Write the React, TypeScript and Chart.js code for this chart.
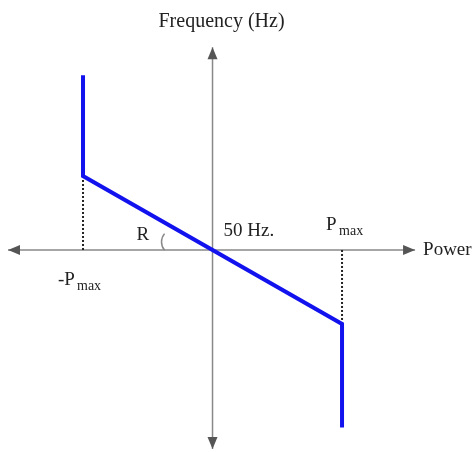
import React, { useEffect, useRef } from "react";
import { Chart, registerables } from "chart.js";

Chart.register(...registerables);

// Droop characteristic: power in units of Pmax, frequency in Hz
const droopPower = [-1, -1, 1, 1];
const droopFrequency = [52.36, 51.0, 49.0, 47.6];

// Guide (dotted) lines from the curve's corners to the power axis
const leftGuidePower = [-1, -1];
const leftGuideFrequency = [51.0, 50.0];
const rightGuidePower = [1, 1];
const rightGuideFrequency = [50.0, 49.0];

// Axes extents
const nominalFrequency = 50;
const powerAxisRange = [-1.579, 1.564];
const frequencyAxisRange = [47.31, 52.74];

// Scale window
const powerScale = [-1.641, 2.019];
const frequencyScale = [47.27, 53.378];

const axisTitleY = "Frequency (Hz)";
const axisTitleX = "Power";
const centerLabel = "50 Hz.";
const angleLabel = "R";

const FONT = "'Liberation Serif', 'Times New Roman', serif";

const overlayPlugin = {
  id: "droopOverlay",
  afterDatasetsDraw(chart: any) {
    const ctx = chart.ctx;
    const xs = chart.scales.x;
    const ys = chart.scales.y;
    const ox = xs.getPixelForValue(0);
    const oy = ys.getPixelForValue(nominalFrequency);
    const xl = xs.getPixelForValue(powerAxisRange[0]);
    const xr = xs.getPixelForValue(powerAxisRange[1]);
    const yt = ys.getPixelForValue(frequencyAxisRange[1]);
    const yb = ys.getPixelForValue(frequencyAxisRange[0]);
    const pL = xs.getPixelForValue(-1);
    const pR = xs.getPixelForValue(1);

    ctx.save();
    // arrowheads
    ctx.fillStyle = "#555";
    const L = 12;
    const W = 5;
    const tri = (pts: number[][]) => {
      ctx.beginPath();
      ctx.moveTo(pts[0][0], pts[0][1]);
      ctx.lineTo(pts[1][0], pts[1][1]);
      ctx.lineTo(pts[2][0], pts[2][1]);
      ctx.closePath();
      ctx.fill();
    };
    tri([[xr, oy], [xr - L, oy - W], [xr - L, oy + W]]);
    tri([[xl, oy], [xl + L, oy - W], [xl + L, oy + W]]);
    tri([[ox, yt], [ox - W, yt + L], [ox + W, yt + L]]);
    tri([[ox, yb], [ox - W, yb - L], [ox + W, yb - L]]);

    // angle arc
    ctx.strokeStyle = "#888";
    ctx.lineWidth = 1.5;
    ctx.beginPath();
    ctx.arc(ox - 38, oy - 8, 13, (140 * Math.PI) / 180, (220 * Math.PI) / 180);
    ctx.stroke();

    // labels
    ctx.fillStyle = "#222";
    ctx.textBaseline = "alphabetic";
    const text = (t: string, x: number, y: number, size: number, align: CanvasTextAlign = "left") => {
      ctx.font = `${size}px ${FONT}`;
      ctx.textAlign = align;
      ctx.fillText(t, x, y);
    };
    text(axisTitleY, ox + 9, yt - 20, 20, "center");
    text(axisTitleX, xr + 8, oy + 5, 19);
    text(centerLabel, ox + 11, oy - 14, 19);
    text(angleLabel, ox - 76, oy - 10, 19);
    // -Pmax
    text("-P", pL - 25, oy + 35, 19);
    text("max", pL - 6, oy + 40, 14);
    // Pmax
    text("P", pR - 16, oy - 20, 19);
    text("max", pR - 3, oy - 15, 14);
    ctx.restore();
  },
};

export default function App() {
  const ref = useRef<HTMLCanvasElement | null>(null);
  useEffect(() => {
    if (!ref.current) return;
    const toPts = (xs: number[], ys: number[]) => xs.map((x, i) => ({ x, y: ys[i] }));
    const chart = new Chart(ref.current, {
      type: "scatter",
      data: {
        datasets: [
          {
            label: "Power axis",
            data: toPts(powerAxisRange, [nominalFrequency, nominalFrequency]),
            showLine: true,
            borderColor: "#888",
            borderWidth: 1.5,
            pointRadius: 0,
            order: 4,
          },
          {
            label: "Frequency axis",
            data: toPts([0, 0], frequencyAxisRange),
            showLine: true,
            borderColor: "#888",
            borderWidth: 1.5,
            pointRadius: 0,
            order: 4,
          },
          {
            label: "Left guide",
            data: toPts(leftGuidePower, leftGuideFrequency),
            showLine: true,
            borderColor: "#222",
            borderWidth: 2,
            borderDash: [2, 2],
            pointRadius: 0,
            order: 3,
          },
          {
            label: "Right guide",
            data: toPts(rightGuidePower, rightGuideFrequency),
            showLine: true,
            borderColor: "#222",
            borderWidth: 2,
            borderDash: [2, 2],
            pointRadius: 0,
            order: 3,
          },
          {
            label: "Droop",
            data: toPts(droopPower, droopFrequency),
            showLine: true,
            borderColor: "#1212ee",
            borderWidth: 4,
            borderJoinStyle: "miter",
            pointRadius: 0,
            order: 1,
          },
        ],
      },
      options: {
        responsive: false,
        animation: false,
        layout: { padding: 0 },
        plugins: { legend: { display: false }, tooltip: { enabled: false } },
        scales: {
          x: { type: "linear", display: false, min: powerScale[0], max: powerScale[1] },
          y: { type: "linear", display: false, min: frequencyScale[0], max: frequencyScale[1] },
        },
      },
      plugins: [overlayPlugin],
    });
    return () => chart.destroy();
  }, []);
  return (
    <div style={{ position: "absolute", left: 0, top: 0, width: 474, height: 452, background: "#fff" }}>
      <canvas ref={ref} width={474} height={452} style={{ display: "block" }} />
    </div>
  );
}
